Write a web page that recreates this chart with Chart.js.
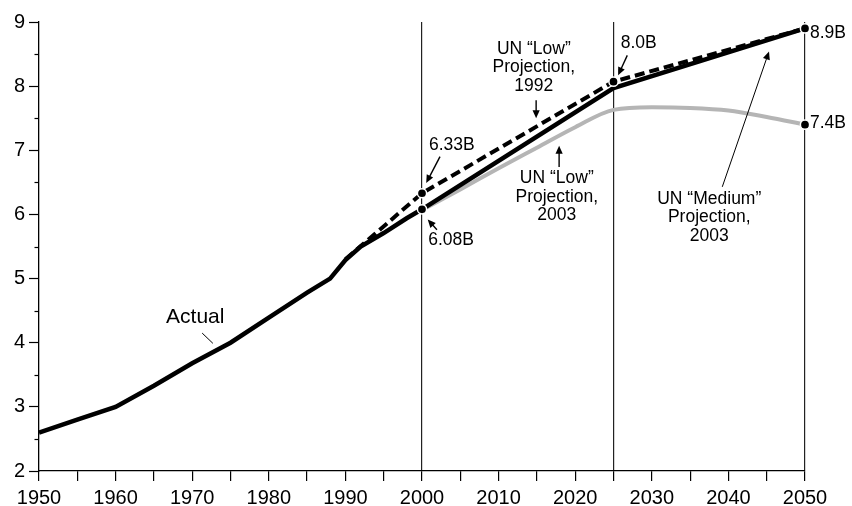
<!DOCTYPE html>
<html>
<head>
<meta charset="UTF-8">
<title>World population projections</title>
<script src="https://cdn.jsdelivr.net/npm/chart.js"></script>
<style>
  body { margin: 0; background: #fff; }
</style>
</head>
<body>
<canvas id="chart" width="852" height="506"></canvas>
<script>
// data, world population in billions
const actualYears = [1950, 1955, 1960, 1965, 1970, 1975, 1980, 1985, 1988, 1990, 1992, 1995, 1998, 2000];
const actualPop   = [2.6, 2.8, 3.0, 3.33, 3.68, 4.0, 4.39, 4.78, 5.0, 5.29, 5.5, 5.71, 5.94, 6.08];

const low1992Years = [1990, 2000, 2025, 2050];
const low1992Pop   = [5.3, 6.33, 8.07, 8.9];
const low1992Marks = [2000, 2025, 2050];

const medium2003Years = [2000, 2025, 2050];
const medium2003Pop   = [6.08, 7.97, 8.9];
const medium2003Marks = [2000];

const low2003Years = [2000, 2005, 2010, 2015, 2020, 2025, 2030, 2035, 2040, 2045, 2050];
const low2003Pop   = [6.07, 6.39, 6.72, 7.04, 7.36, 7.63, 7.67, 7.66, 7.62, 7.52, 7.4];
const low2003Marks = [2050];

const xMin = 1950, xMax = 2050;
const yMin = 2, yMax = 9;
const dividerYears = [2000, 2025, 2050];

// labels, placed in data units [year, value]
const notes = [
  { text: ['6.33B'], at: [2003.9, 7.08] },
  { text: ['6.08B'], at: [2003.8, 5.60] },
  { text: ['UN “Low”', 'Projection,', '1992'], at: [2014.6, 8.29] },
  { text: ['UN “Low”', 'Projection,', '2003'], at: [2017.6, 6.27] },
  { text: ['8.0B'], at: [2028.3, 8.67] },
  { text: ['8.9B'], at: [2050.65, 8.83], align: 'left' },
  { text: ['7.4B'], at: [2050.65, 7.43], align: 'left' },
  { text: ['UN “Medium”', 'Projection,', '2003'], at: [2037.5, 5.95] },
  { text: ['Actual'], at: [1970.4, 4.39], size: 21 }
];
const pointers = [
  { from: [2002.35, 6.90], to: [2000.55, 6.49], w: 1.4, head: true },
  { from: [2001.95, 5.76], to: [2000.75, 5.92], w: 1.4, head: true },
  { from: [2014.9, 7.78], to: [2014.9, 7.50], w: 1.4, head: true },
  { from: [2017.9, 6.74], to: [2017.9, 7.07], w: 1.4, head: true },
  { from: [2026.8, 8.48], to: [2025.6, 8.17], w: 1.4, head: true },
  { from: [2039.2, 6.43], to: [2045.3, 8.54], w: 1, head: true },
  { from: [1971.3, 4.15], to: [1972.7, 3.99], w: 1, head: false }
];

const FONT = '"Liberation Sans", Arial, Helvetica, sans-serif';

function pts(xs, ys) {
  return xs.map((x, i) => ({ x: x, y: ys[i] }));
}
function markRadius(marks) {
  return ctx => (ctx.raw && marks.includes(ctx.raw.x)) ? 4.6 : 0;
}

const notesPlugin = {
  id: 'notes',
  afterDraw(chart) {
    const c = chart.ctx, xs = chart.scales.x, ys = chart.scales.y;
    c.save();
    // minor ticks on the y axis
    c.strokeStyle = '#000';
    c.lineWidth = 1.2;
    ys.ticks.forEach(t => {
      if (Number.isInteger(t.value)) return;
      const py = Math.round(ys.getPixelForValue(t.value)) + 0.5;
      c.beginPath();
      c.moveTo(chart.chartArea.left - 4.5, py);
      c.lineTo(chart.chartArea.left, py);
      c.stroke();
    });

    c.fillStyle = '#000';
    c.textBaseline = 'middle';
    notes.forEach(n => {
      const px = xs.getPixelForValue(n.at[0]);
      const py = ys.getPixelForValue(n.at[1]);
      c.font = (n.size || 17.5) + 'px ' + FONT;
      c.textAlign = n.align || 'center';
      const lh = 18.5;
      const top = py - (n.text.length - 1) * lh / 2;
      n.text.forEach((s, i) => c.fillText(s, px, top + i * lh));
    });

    pointers.forEach(p => {
      const x1 = xs.getPixelForValue(p.from[0]), y1 = ys.getPixelForValue(p.from[1]);
      const x2 = xs.getPixelForValue(p.to[0]), y2 = ys.getPixelForValue(p.to[1]);
      const a = Math.atan2(y2 - y1, x2 - x1);
      const hl = p.head ? 8 : 0, hw = 3.6;
      c.lineWidth = p.w;
      c.beginPath();
      c.moveTo(x1, y1);
      c.lineTo(x2 - Math.cos(a) * hl * 0.8, y2 - Math.sin(a) * hl * 0.8);
      c.stroke();
      if (p.head) {
        c.beginPath();
        c.moveTo(x2, y2);
        c.lineTo(x2 - Math.cos(a) * hl + Math.sin(a) * hw, y2 - Math.sin(a) * hl - Math.cos(a) * hw);
        c.lineTo(x2 - Math.cos(a) * hl - Math.sin(a) * hw, y2 - Math.sin(a) * hl + Math.cos(a) * hw);
        c.closePath();
        c.fill();
      }
    });
    c.restore();
  }
};

new Chart(document.getElementById('chart'), {
  type: 'line',
  data: {
    datasets: [
      {
        label: 'UN Low 1992',
        data: pts(low1992Years, low1992Pop),
        borderColor: '#000',
        borderWidth: 4,
        borderDash: [10, 5],
        pointRadius: markRadius(low1992Marks),
        pointBackgroundColor: '#000',
        pointBorderColor: '#fff',
        pointBorderWidth: 1.5,
        clip: false
      },
      {
        label: 'UN Medium 2003',
        data: pts(medium2003Years, medium2003Pop),
        borderColor: '#000',
        borderWidth: 4.5,
        pointRadius: markRadius(medium2003Marks),
        pointBackgroundColor: '#000',
        pointBorderColor: '#fff',
        pointBorderWidth: 1.5,
        clip: false
      },
      {
        label: 'Actual',
        data: pts(actualYears, actualPop),
        borderColor: '#000',
        borderWidth: 4.5,
        pointRadius: 0,
        clip: false
      },
      {
        label: 'UN Low 2003',
        data: pts(low2003Years, low2003Pop),
        borderColor: '#b5b5b5',
        borderWidth: 4,
        cubicInterpolationMode: 'monotone',
        pointRadius: markRadius(low2003Marks),
        pointBackgroundColor: '#000',
        pointBorderColor: '#fff',
        pointBorderWidth: 1.5,
        clip: false
      }
    ]
  },
  options: {
    responsive: false,
    animation: false,
    layout: { padding: { top: 22, right: 47, left: 0, bottom: 0 } },
    plugins: { legend: { display: false }, tooltip: { enabled: false } },
    scales: {
      x: {
        type: 'linear',
        min: xMin,
        max: xMax,
        afterFit: s => { s.height = 35; },
        ticks: {
          stepSize: 5,
          autoSkip: false,
          maxRotation: 0,
          color: '#000',
          padding: 5,
          font: { family: FONT, size: 20 },
          callback: v => (v % 10 === 0 ? String(v) : '')
        },
        grid: {
          color: ctx => (ctx.tick && dividerYears.includes(ctx.tick.value)) ? '#222' : 'rgba(0,0,0,0)',
          lineWidth: 1.2,
          tickColor: '#000',
          tickLength: 10,
          tickWidth: 1.2
        },
        border: { color: '#000', width: 1.3 }
      },
      y: {
        min: yMin,
        max: yMax,
        afterFit: s => { s.width = 39; },
        ticks: {
          stepSize: 0.5,
          color: '#000',
          padding: 4,
          font: { family: FONT, size: 20 },
          callback: v => (Number.isInteger(v) ? String(v) : '')
        },
        grid: {
          drawOnChartArea: false,
          tickLength: 10,
          tickWidth: 1.2,
          tickColor: ctx => Number.isInteger(ctx.tick.value) ? '#000' : 'rgba(0,0,0,0)'
        },
        border: { color: '#000', width: 1.3 }
      }
    }
  },
  plugins: [notesPlugin]
});
</script>
</body>
</html>
